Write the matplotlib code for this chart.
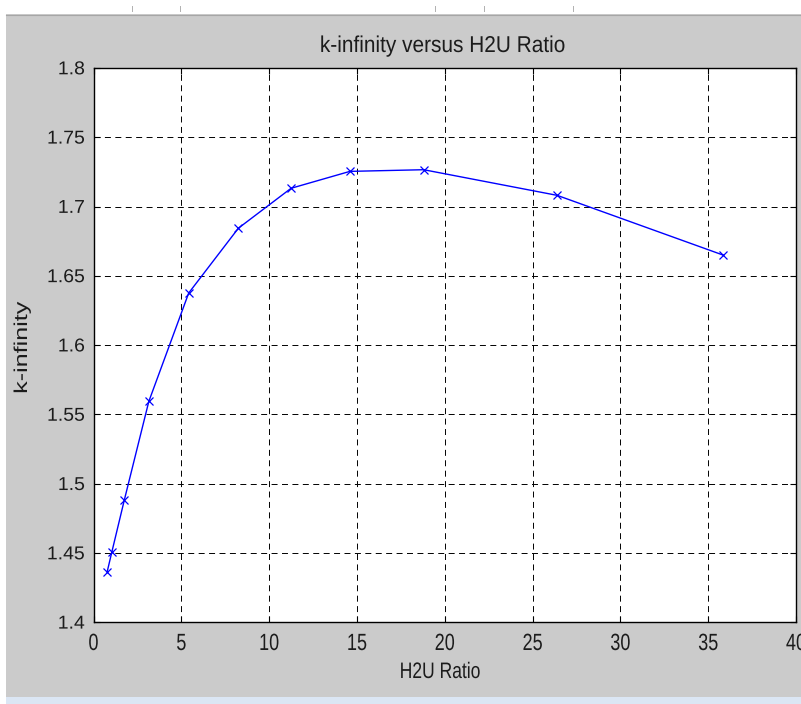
import matplotlib
matplotlib.use("Agg")
import matplotlib.pyplot as plt
from matplotlib.patheffects import AbstractPathEffect
from matplotlib.transforms import Affine2D, ScaledTranslation, blended_transform_factory
from matplotlib.patches import Rectangle
from matplotlib.lines import Line2D

# data
h2u_ratio = [0.78, 1.04, 1.76, 3.15, 5.42, 8.25, 11.25, 14.6, 18.8, 26.4, 35.85]
k_inf = [1.4365, 1.4505, 1.4885, 1.5594, 1.6376, 1.6844, 1.7132, 1.7254, 1.7266, 1.7081, 1.6650]

x_ticks = [0, 5, 10, 15, 20, 25, 30, 35, 40]
x_ticklabels = ["0", "5", "10", "15", "20", "25", "30", "35", "40"]
y_ticks = [1.4, 1.45, 1.5, 1.55, 1.6, 1.65, 1.7, 1.75, 1.8]
y_ticklabels = ["1.4", "1.45", "1.5", "1.55", "1.6", "1.65", "1.7", "1.75", "1.8"]

title = "k-infinity versus H2U Ratio"
xlabel = "H2U Ratio"
ylabel = "k-infinity"


class Stretch(AbstractPathEffect):
    # the screenshot text is a bit stretched, scale the glyph path around its centre/baseline
    def __init__(self, sx=1.0, sy=1.0):
        super().__init__()
        self.sx, self.sy = sx, sy

    def draw_path(self, renderer, gc, tpath, affine, rgbFace=None):
        ext = tpath.get_extents()
        cx = 0.5 * (ext.x0 + ext.x1)
        t = Affine2D().translate(-cx, 0).scale(self.sx, self.sy).translate(cx, 0) + affine
        renderer.draw_path(gc, tpath, t, rgbFace)


plt.rcParams["font.family"] = ["Liberation Sans", "DejaVu Sans"]
plt.rcParams["lines.scale_dashes"] = False

W, H = 801, 704
fig = plt.figure(figsize=(W / 100, H / 100), dpi=100, facecolor="#cbcbcb")

# window chrome around the MATLAB figure
fig.patches.append(Rectangle((0, 1 - 14 / H), 1, 14 / H, transform=fig.transFigure,
                             facecolor="white", edgecolor="none", zorder=0))
fig.patches.append(Rectangle((0, 0), 6 / W, 1, transform=fig.transFigure,
                             facecolor="white", edgecolor="none", zorder=0))
fig.patches.append(Rectangle((6 / W, 0), 1, 7 / H, transform=fig.transFigure,
                             facecolor="#dbe6f4", edgecolor="none", zorder=0))
fig.lines.append(Line2D([6 / W, 1], [1 - 15 / H] * 2, transform=fig.transFigure,
                        color="#a6a6a6", lw=0.8))
for px in [132, 180, 435, 484, 573]:
    fig.lines.append(Line2D([px / W] * 2, [1 - 6 / H, 1 - 11 / H], transform=fig.transFigure,
                            color="#b0b0b0", lw=0.7))

left, right, top, bottom = 93.5, 796, 68, 622.3
ax = fig.add_axes([left / W, 1 - bottom / H, (right - left) / W, (bottom - top) / H])
ax.set_facecolor("white")

ax.plot(h2u_ratio, k_inf, color=(0, 0, 1), lw=1.0, marker="x", ms=5.5, mew=0.9)

ax.set_xlim(0, 40)
ax.set_ylim(1.4, 1.8)
ax.set_xticks(x_ticks)
ax.set_yticks(y_ticks)
ax.tick_params(direction="in", length=4.5, width=0.8, top=True, right=True,
               labelbottom=False, labelleft=False)
ax.grid(True, color="black", linestyle=(0, (4.3, 3.2)), linewidth=0.7)
for s in ax.spines.values():
    s.set_linewidth(1.0)
    s.set_color("black")

txt_color = "#1c1c1c"

# tick labels
xt = blended_transform_factory(ax.transData, fig.transFigure)
for v, lab in zip(x_ticks, x_ticklabels):
    t = ax.text(v, 1 - 650 / H, lab, transform=xt, ha="center", va="baseline",
                fontsize=13, color=txt_color, clip_on=False)
    t.set_path_effects([Stretch(1.0, 1.3)])

yt = blended_transform_factory(fig.transFigure, ax.transData) + ScaledTranslation(0, -6.3 / 100, fig.dpi_scale_trans)
for v, lab in zip(y_ticks, y_ticklabels):
    t = ax.text(85 / W, v, lab, transform=yt, ha="right", va="baseline",
                fontsize=14, color=txt_color, clip_on=False)
    t.set_path_effects([Stretch(1.0, 0.96)])

# title and axis labels
t = fig.text(443 / W, 1 - 52 / H, title, ha="center", va="baseline", fontsize=15, color=txt_color)
t.set_path_effects([Stretch(1.0, 1.1)])

t = fig.text(440 / W, 1 - 678 / H, xlabel, ha="center", va="baseline", fontsize=12.6, color=txt_color)
t.set_path_effects([Stretch(1.0, 1.28)])

t = fig.text(27 / W, 1 - 347.5 / H, ylabel, ha="center", va="baseline", rotation=90,
             rotation_mode="anchor", fontsize=13.4, color=txt_color)
t.set_path_effects([Stretch(1.35, 1.0)])

fig.savefig("out.png", dpi=100, facecolor=fig.get_facecolor())
